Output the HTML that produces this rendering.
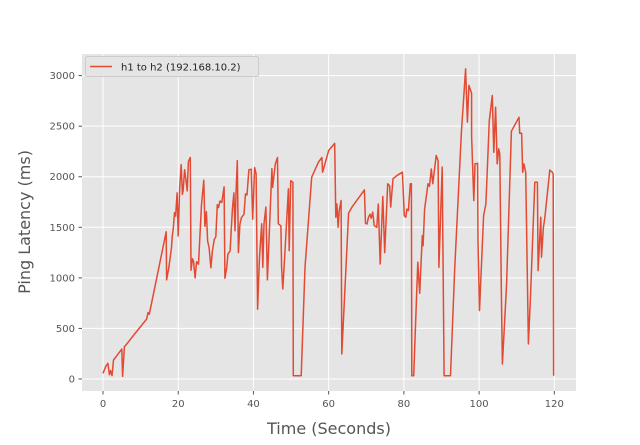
<!DOCTYPE html>
<html><head><meta charset="utf-8"><style>
body{margin:0;background:#fff;}
svg text{font-family:"DejaVu Sans","Liberation Sans",sans-serif;}
</style></head><body>
<svg id="chart" width="640" height="440" xmlns="http://www.w3.org/2000/svg">
<rect x="82" y="54" width="494" height="337" fill="#E5E5E5"/>
<g id="grid"></g>
<g id="ticks"></g>
<path id="line" fill="none" stroke="#E24A33" stroke-width="1.5" stroke-linejoin="round"/>
<text x="329" y="434" text-anchor="middle" font-size="16" fill="#555">Time (Seconds)</text>
<text transform="translate(30,222) rotate(-90)" text-anchor="middle" font-size="16" fill="#555">Ping Latency (ms)</text>
<g>
<rect x="85.5" y="56.5" width="173" height="20" rx="2" fill="#E5E5E5" stroke="#ccc" stroke-width="1"/>
<line x1="90" y1="66.5" x2="112" y2="66.5" stroke="#E24A33" stroke-width="1.5"/>
<text x="121" y="70.5" font-size="10" fill="#222">h1 to h2 (192.168.10.2)</text>
</g>
</svg>
<script>
const times=[0,0.8,1.3,1.7,2.0,2.4,2.8,5.0,5.2,5.7,6.3,8.5,11.6,12.0,12.3,16.8,16.9,17.5,18.2,18.4,18.7,19.0,19.3,19.7,20.0,20.4,20.8,21.1,21.3,21.7,22.0,22.4,22.7,23.2,23.4,23.8,24.1,24.5,24.9,25.4,26.2,26.8,27.1,27.5,27.8,28.2,28.7,29.1,29.6,30.0,30.4,30.7,31.1,31.6,32.2,32.4,32.9,33.2,33.8,34.4,34.8,35.1,35.4,35.7,36.0,36.4,36.8,37.5,37.9,38.3,38.8,39.4,39.8,40.3,40.7,41.1,41.6,42.2,42.5,42.8,43.3,43.7,44.3,44.9,45.1,45.8,46.4,46.6,47.3,47.5,47.8,48.2,49.3,49.5,49.9,50.5,50.6,52.7,53.7,55.5,57.3,58.2,58.4,60.0,61.6,61.9,62.2,62.5,62.8,63.3,63.5,65.3,66.2,69.5,69.8,70.2,70.6,71.0,71.3,71.7,72.1,72.8,73.2,73.7,74.4,74.9,75.7,76.2,76.5,77.1,78.1,79.6,80.1,80.5,80.8,81.2,81.7,82.0,82.1,82.6,83.7,84.2,84.9,85.1,85.5,86.4,86.8,87.3,87.7,88.6,89.1,89.3,90.2,90.7,92.4,93.5,95.3,96.4,96.9,97.3,98.0,98.0,98.6,98.9,99.6,99.7,100.1,101.2,101.8,102.7,103.5,103.9,104.4,104.8,105.2,105.5,105.9,106.2,107.3,108.6,110.6,110.8,111.3,111.6,111.9,112.4,113.1,113.7,114.8,115.5,115.7,116.4,116.6,117.1,117.5,118.8,119.5,119.7,119.8];
const latency=[56,130,155,43,82,33,187,296,26,319,345,450,592,658,641,1457,980,1100,1300,1405,1490,1645,1610,1840,1414,1890,2120,1825,1860,2070,1990,1860,2150,2190,1075,1190,1160,1000,1160,1135,1725,1965,1510,1655,1365,1300,1100,1265,1380,1405,1725,1695,1760,1745,1900,997,1100,1235,1265,1680,1840,1465,1860,2160,1250,1530,1595,1630,1830,1820,2070,2075,1580,2090,2030,690,1205,1535,1105,1535,1700,980,1520,2080,1895,2125,2190,1535,1515,1105,890,1140,1880,1270,1960,1945,33,33,1105,1995,2145,2190,2045,2260,2330,1600,1730,1500,1665,1765,247,1640,1700,1870,1540,1533,1600,1630,1590,1650,1517,1500,1730,1137,1805,1250,1930,1910,1700,1980,2010,2045,1615,1600,1680,1665,1930,1930,33,33,1155,847,1418,1319,1680,1930,1905,2077,1930,2210,2160,1105,2095,33,33,1088,2440,3066,2540,2903,2826,2406,1764,2127,2133,1368,676,1616,1731,2555,2803,2242,2687,2127,2275,2225,907,148,940,2450,2588,2430,2430,2044,2127,2044,346,841,1946,1946,1072,1600,1204,1500,1600,2067,2044,2028,33];
const xTicks=[0,20,40,60,80,100,120];
const yTicks=[0,500,1000,1500,2000,2500,3000];
function xs(t){return 103+t*3.761;}
function ys(v){return 379-v*0.10113;}
const NS="http://www.w3.org/2000/svg";
const grid=document.getElementById('grid'),ticks=document.getElementById('ticks');
function mk(tag,attrs,parent){const e=document.createElementNS(NS,tag);for(const k in attrs)e.setAttribute(k,attrs[k]);parent.appendChild(e);return e;}
xTicks.forEach(t=>{const x=xs(t);
 const g=mk('line',{x1:x,x2:x,y1:54,y2:391,stroke:'#fff','stroke-width':1},grid);
 
 
 mk('line',{x1:x,x2:x,y1:391,y2:394.5,stroke:'#555'},ticks);
 const l=mk('text',{x:x,y:407,'text-anchor':'middle','font-size':10,fill:'#555'},ticks);l.textContent=t;
 
 });
yTicks.forEach(v=>{const y=ys(v);
 const g=mk('line',{x1:82,x2:576,y1:y,y2:y,stroke:'#fff','stroke-width':1},grid);
 
 
 mk('line',{x1:78.5,x2:82,y1:y,y2:y,stroke:'#555'},ticks);
 const l=mk('text',{x:75,y:y+3.5,'text-anchor':'end','font-size':10,fill:'#555'},ticks);l.textContent=v;
 
 });
document.getElementById('line').setAttribute('d',times.map((t,i)=>(i?'L':'M')+xs(t).toFixed(1)+','+ys(latency[i]).toFixed(1)).join(''));
</script>
</body></html>
